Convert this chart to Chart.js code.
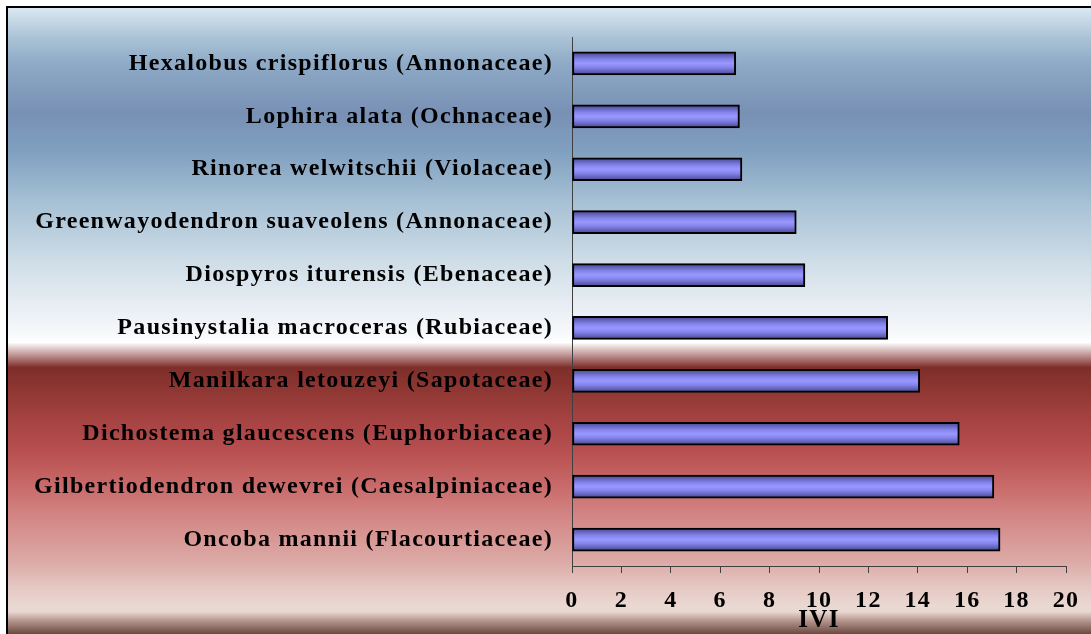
<!DOCTYPE html>
<html>
<head>
<meta charset="utf-8">
<script src="https://cdn.jsdelivr.net/npm/chart.js@4/dist/chart.umd.min.js"></script>
<style>
  html, body { margin: 0; padding: 0; background: #fff; }
  #wrap { width: 1091px; height: 634px; position: relative; }
</style>
</head>
<body>
<div id="wrap"><canvas id="ivi-chart"></canvas></div>
<script>
const species = [
    'Hexalobus crispiflorus (Annonaceae)',
    'Lophira alata (Ochnaceae)',
    'Rinorea welwitschii (Violaceae)',
    'Greenwayodendron suaveolens (Annonaceae)',
    'Diospyros iturensis (Ebenaceae)',
    'Pausinystalia macroceras (Rubiaceae)',
    'Manilkara letouzeyi (Sapotaceae)',
    'Dichostema glaucescens (Euphorbiaceae)',
    'Gilbertiodendron dewevrei (Caesalpiniaceae)',
    'Oncoba mannii (Flacourtiaceae)'
];
const iviValues = [6.63, 6.78, 6.88, 9.08, 9.43, 12.78, 14.08, 15.68, 17.08, 17.33];
const xTicks = [0, 2, 4, 6, 8, 10, 12, 14, 16, 18, 20];

const serif = "'Liberation Serif', 'Times New Roman', serif";

// slide-like background behind the plot
const backdrop = {
    id: 'backdrop',
    beforeDraw(chart) {
        const ctx = chart.ctx;
        const w = chart.width, h = chart.height;
        ctx.save();
        ctx.fillStyle = '#ffffff';
        ctx.fillRect(0, 0, w, h);
        const g = ctx.createLinearGradient(0, 7, 0, h);
        const stops = [
            [0, '#dce9f2'], [0.05, '#aac2d6'], [0.09, '#8eaac6'], [0.17, '#7890b4'],
            [0.23, '#80a0c0'], [0.31, '#a6c0d4'], [0.41, '#d0dee8'], [0.47, '#e6ecf2'],
            [0.525, '#f8fafc'], [0.535, '#ffffff'], [0.555, '#c09494'], [0.575, '#7e2e2a'],
            [0.6, '#8a3430'], [0.665, '#a84444'], [0.71, '#b85050'], [0.76, '#c86868'],
            [0.82, '#d48a88'], [0.885, '#dcaaa6'], [0.92, '#e4c4c0'], [0.955, '#ead8d2'],
            [0.965, '#e8d6d0'], [0.98, '#b09088'], [1, '#6a4a40']
        ];
        stops.forEach(([o, c]) => g.addColorStop(o, c));
        ctx.fillStyle = g;
        ctx.fillRect(7, 7, w - 7, h - 7);
        ctx.strokeStyle = '#000';
        ctx.lineWidth = 2;
        ctx.beginPath();
        ctx.moveTo(7, h);
        ctx.lineTo(7, 7);
        ctx.lineTo(w, 7);
        ctx.stroke();
        ctx.restore();
        // the labels in the original are spaced out a little
        ctx.letterSpacing = '1.3px';
    }
};

function barFill(c) {
    const chart = c.chart;
    if (!chart.chartArea) return '#9090ff';
    const y = chart.scales.y.getPixelForValue(c.dataIndex);
    const g = chart.ctx.createLinearGradient(0, y - 10, 0, y + 10);
    g.addColorStop(0, '#5252a0');
    g.addColorStop(0.3, '#8484ec');
    g.addColorStop(0.5, '#9898ff');
    g.addColorStop(0.7, '#8484ec');
    g.addColorStop(1, '#5252a0');
    return g;
}

const chartCanvas = document.querySelector('#ivi-chart');

var iviChart = new Chart(chartCanvas, {
    type: 'bar',
    data: {
        labels: species,
        datasets: [{
            data: iviValues,
            backgroundColor: barFill,
            borderColor: '#000',
            borderWidth: 2,
            borderSkipped: false,
            barThickness: 23
        }]
    },
    options: {
        indexAxis: 'y',
        responsive: true,
        maintainAspectRatio: false,
        animation: false,
        layout: { padding: { top: 37, right: 21, bottom: 1, left: 0 } },
        plugins: {
            legend: { display: false },
            tooltip: { enabled: false }
        },
        scales: {
            x: {
                min: 0,
                max: 20,
                afterBuildTicks: (scale) => { scale.ticks = xTicks.map(v => ({ value: v })); },
                afterFit: (scale) => { scale.height = 67; },
                grid: { drawOnChartArea: false, tickLength: 7, color: '#404040', lineWidth: 1 },
                border: { color: '#404040', width: 1 },
                ticks: {
                    color: '#000',
                    padding: 13,
                    maxRotation: 0,
                    font: { family: serif, size: 24, weight: 'bold' }
                },
                title: {
                    display: true,
                    text: 'IVI',
                    color: '#000',
                    padding: { top: 0, bottom: 0 },
                    font: { family: serif, size: 25, weight: 'bold', lineHeight: 1 }
                }
            },
            y: {
                afterFit: (scale) => { scale.width = 572; },
                grid: { display: false },
                border: { color: '#404040', width: 1 },
                ticks: {
                    color: '#000',
                    padding: 11,
                    font: { family: serif, size: 24, weight: 'bold' }
                }
            }
        }
    },
    plugins: [backdrop]
});
</script>
</body>
</html>
